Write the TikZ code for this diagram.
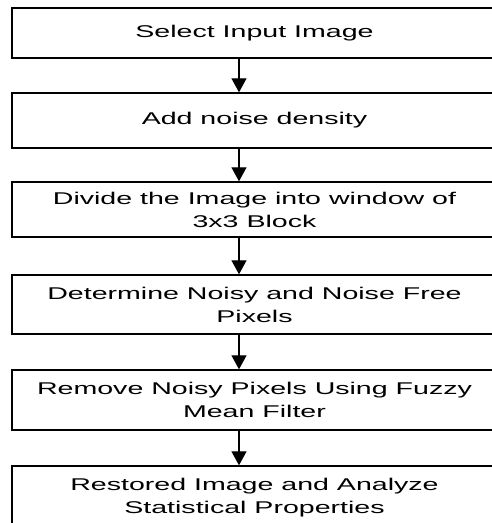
\documentclass[tikz,border=0pt]{standalone}
\usepackage{fontspec}
\setmainfont[FakeStretch=1.68]{Liberation Sans}
\usetikzlibrary{arrows.meta}
\begin{document}
\begin{tikzpicture}[x=1pt,y=-1pt,
  stepbox/.style={draw, line width=1.4pt, minimum width=485pt, align=center,
    font=\fontsize{17}{23}\selectfont, inner sep=0pt},
  flow/.style={line width=1.3pt, -{Triangle[width=15pt,length=14pt]}}]
\useasboundingbox (0,0) rectangle (492,523);
\clip (0,0) rectangle (492,523);
% the process steps, top to bottom
\node[stepbox, minimum height=50pt] (s1) at (254.5,33) {Select Input Image};
\node[stepbox, minimum height=55pt] (s2) at (254.5,120.5) {Add noise density};
\node[stepbox, minimum height=55pt] (s3) at (254.5,209.5) {Divide the Image into window of\\3x3 Block};
\node[stepbox, minimum height=59pt] (s4) at (254.5,304.5) {Determine Noisy and Noise Free\\Pixels};
\node[stepbox, minimum height=60pt] (s5) at (254.5,400) {Remove Noisy Pixels Using Fuzzy\\Mean Filter};
\node[stepbox, minimum height=64pt] (s6) at (254.5,498) {Restored Image and Analyze\\Statistical Properties};
% connectors run down a common vertical line
\coordinate (ax) at (239,0);
\draw[flow] (s1.south -| ax) -- (s2.north -| ax);
\draw[flow] (s2.south -| ax) -- (s3.north -| ax);
\draw[flow] (s3.south -| ax) -- (s4.north -| ax);
\draw[flow] (s4.south -| ax) -- (s5.north -| ax);
\draw[flow] (s5.south -| ax) -- (s6.north -| ax);
\end{tikzpicture}
\end{document}
